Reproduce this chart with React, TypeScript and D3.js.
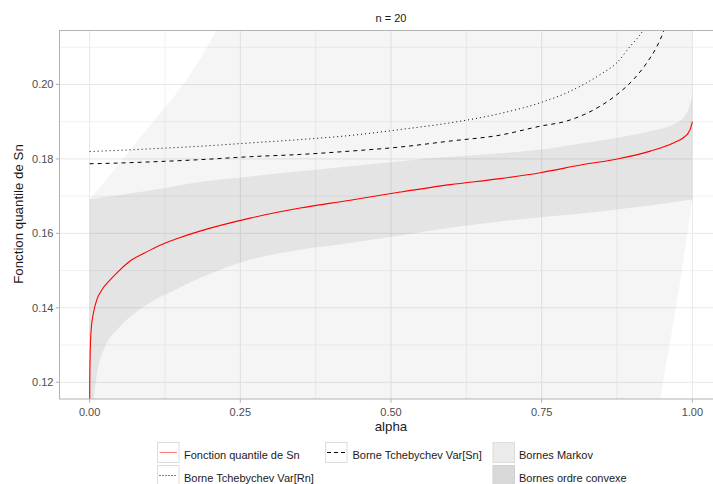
import React from "react";
import * as d3 from "d3";

// ---------- data ----------
const alphaQ = [0, 0.0002, 0.0008, 0.0025, 0.0063, 0.012, 0.0202, 0.034, 0.0478, 0.07, 0.092, 0.114, 0.142, 0.183, 0.2664, 0.3494, 0.4324, 0.5154, 0.5983, 0.6813, 0.7477, 0.8191, 0.8755, 0.9303, 0.9685, 0.9851, 0.9934, 0.997, 1.0];
const quantSn = [0.11, 0.12, 0.127, 0.1341, 0.1386, 0.1422, 0.1448, 0.1475, 0.1498, 0.1529, 0.1548, 0.1566, 0.1584, 0.1606, 0.1641, 0.1668, 0.1689, 0.1711, 0.1731, 0.1747, 0.1763, 0.1785, 0.18, 0.1821, 0.1843, 0.1857, 0.187, 0.1882, 0.19];

const alphaSn = [0, 0.05, 0.1, 0.183, 0.2664, 0.3494, 0.4324, 0.5154, 0.5983, 0.6813, 0.7477, 0.792, 0.8473, 0.875, 0.9026, 0.9248, 0.9414, 0.9524, 0.965];
const borneSn = [0.1787, 0.1789, 0.1792, 0.1798, 0.1806, 0.1812, 0.1821, 0.1832, 0.1848, 0.1864, 0.1888, 0.1902, 0.1942, 0.1973, 0.2014, 0.2059, 0.2103, 0.2144, 0.222];

const alphaRn = [0, 0.05, 0.1, 0.183, 0.2664, 0.3494, 0.4324, 0.5154, 0.5983, 0.6813, 0.7477, 0.792, 0.8473, 0.875, 0.8971, 0.9165, 0.935];
const borneRn = [0.182, 0.1823, 0.1827, 0.1834, 0.1843, 0.1852, 0.1863, 0.1879, 0.1897, 0.1922, 0.1951, 0.1978, 0.2027, 0.2059, 0.2103, 0.2141, 0.22];

const alphaCU = [0, 0.05, 0.1, 0.1917, 0.2664, 0.3494, 0.4324, 0.5154, 0.5983, 0.6813, 0.7477, 0.8191, 0.8755, 0.9303, 0.9685, 0.9851, 0.9934, 1.0];
const convexUpper = [0.1692, 0.1703, 0.1715, 0.174, 0.1753, 0.1767, 0.178, 0.1794, 0.1806, 0.1815, 0.1825, 0.1843, 0.1857, 0.1875, 0.1893, 0.1911, 0.1933, 0.1969];

const alphaCL = [0, 0.007, 0.0146, 0.0257, 0.0478, 0.0755, 0.1032, 0.1364, 0.19, 0.2664, 0.3494, 0.4324, 0.5154, 0.5983, 0.6813, 0.8473, 0.93, 1.0];
const convexLower = [0.1, 0.1157, 0.1242, 0.1296, 0.1345, 0.1386, 0.1417, 0.1444, 0.1485, 0.1529, 0.1556, 0.1574, 0.1594, 0.1615, 0.1632, 0.1659, 0.1675, 0.1691];

const alphaM = [0, 0.02, 0.05, 0.1, 0.15, 0.183, 0.21, 0.25, 0.3, 0.6, 0.9, 0.94, 0.947, 0.975, 1];
const markovUpper = [0.1692, 0.173, 0.179, 0.189, 0.199, 0.2068, 0.2145, 0.225, 0.24, 0.24, 0.24, 0.24, 0.24, 0.24, 0.24];
const markovLower = [0.05, 0.05, 0.05, 0.05, 0.05, 0.05, 0.05, 0.05, 0.05, 0.05, 0.068, 0.108, 0.1155, 0.1422, 0.1691];

const xTicks = [0, 0.25, 0.5, 0.75, 1];
const xTickLabels = ["0.00", "0.25", "0.50", "0.75", "1.00"];
const xMinor = [0.125, 0.375, 0.625, 0.875];
const yTicks = [0.12, 0.14, 0.16, 0.18, 0.2];
const yTickLabels = ["0.12", "0.14", "0.16", "0.18", "0.20"];
const yMinor = [0.13, 0.15, 0.17, 0.19, 0.21];

const FONT = "'Liberation Sans', Arial, sans-serif";

export default function App() {
  const W = 713, H = 484;
  const pL = 59.5, pR = 722.5, pT = 30.5, pB = 399;
  const x = d3.scaleLinear().domain([-0.05, 1.05]).range([pL, pR]);
  const y = d3.scaleLinear().domain([0.1155, 0.2145]).range([pB, pT]);

  const line = d3.line<[number, number]>().x(d => x(d[0])).y(d => y(d[1])).curve(d3.curveMonotoneX);
  const zip = (a: number[], b: number[]) => a.map((v, i) => [v, b[i]] as [number, number]);

  const band = (aU: number[], vU: number[], aL: number[], vL: number[]) => {
    const up = line(zip(aU, vU)) || "";
    const lo = line(zip(aL, vL).reverse()) || "";
    return up + "L" + lo.slice(1) + "Z";
  };

  const markovPath = band(alphaM, markovUpper, alphaM, markovLower);
  const convexPath = band(alphaCU, convexUpper, alphaCL, convexLower);

  const gridMajor = "#e8e8e8";
  const gridMinor = "#f1f1f1";

  return (
    <svg width={W} height={H} style={{ position: "absolute", left: 0, top: 0, background: "#fff" }} fontFamily={FONT}>
      <defs>
        <clipPath id="panel">
          <rect x={pL} y={pT} width={pR - pL} height={pB - pT} />
        </clipPath>
      </defs>
      <rect x={0} y={0} width={W} height={H} fill="#fff" />
      {/* title */}
      <text x={(pL + pR) / 2} y={22} textAnchor="middle" fontSize={11} fill="#1a1a1a">n = 20</text>

      {/* grid */}
      {yMinor.map(v => <line key={"ym" + v} x1={pL} x2={pR} y1={y(v)} y2={y(v)} stroke={gridMinor} strokeWidth={1} />)}
      {xMinor.map(v => <line key={"xm" + v} y1={pT} y2={pB} x1={x(v)} x2={x(v)} stroke={gridMinor} strokeWidth={1} />)}
      {yTicks.map(v => <line key={"yM" + v} x1={pL} x2={pR} y1={y(v)} y2={y(v)} stroke={gridMajor} strokeWidth={1} />)}
      {xTicks.map(v => <line key={"xM" + v} y1={pT} y2={pB} x1={x(v)} x2={x(v)} stroke={gridMajor} strokeWidth={1} />)}

      <g clipPath="url(#panel)">
        <path d={markovPath} fill="#000" fillOpacity={0.038} />
        <path d={convexPath} fill="#000" fillOpacity={0.066} />
        <path d={line(zip(alphaRn, borneRn)) || ""} fill="none" stroke="#000" strokeWidth={1} strokeDasharray="1 3" />
        <path d={line(zip(alphaSn, borneSn)) || ""} fill="none" stroke="#000" strokeWidth={1} strokeDasharray="4 4" />
        <path d={line(zip(alphaQ, quantSn)) || ""} fill="none" stroke="#ff0000" strokeWidth={1.1} />
      </g>

      {/* panel border */}
      <rect x={pL} y={pT} width={pR - pL} height={pB - pT} fill="none" stroke="#b3b3b3" strokeWidth={1} />

      {/* y axis */}
      {yTicks.map((v, i) => (
        <g key={"yt" + v}>
          <line x1={pL - 3.7} x2={pL} y1={y(v)} y2={y(v)} stroke="#b3b3b3" />
          <text x={pL - 6} y={y(v) + 4} textAnchor="end" fontSize={11} fill="#4d4d4d">{yTickLabels[i]}</text>
        </g>
      ))}
      {/* x axis */}
      {xTicks.map((v, i) => (
        <g key={"xt" + v}>
          <line y1={pB} y2={pB + 3.7} x1={x(v)} x2={x(v)} stroke="#b3b3b3" />
          <text x={x(v)} y={416} textAnchor="middle" fontSize={11} fill="#4d4d4d">{xTickLabels[i]}</text>
        </g>
      ))}
      <text x={(pL + pR) / 2} y={430.5} textAnchor="middle" fontSize={13.3} fill="#1a1a1a">alpha</text>
      <text transform={`translate(23,214) rotate(-90)`} textAnchor="middle" fontSize={13.3} fill="#1a1a1a">Fonction quantile de Sn</text>

      {/* legend */}
      <g>
        <rect x={157.5} y={442.5} width={21.5} height={20} fill="#fff" stroke="#dcdcdc" />
        <line x1={159.5} x2={177} y1={452.5} y2={452.5} stroke="#ff7f7f" strokeWidth={1.1} />
        <text x={184} y={459} fontSize={11} fill="#1a1a1a">Fonction quantile de Sn</text>

        <rect x={325.5} y={442.5} width={21.5} height={20} fill="#fff" stroke="#dcdcdc" />
        <line x1={327} x2={346} y1={452.5} y2={452.5} stroke="#000" strokeWidth={1} strokeDasharray="4 3" />
        <text x={352.5} y={459} fontSize={11} fill="#1a1a1a">Borne Tchebychev Var[Sn]</text>

        <rect x={493} y={442.5} width={21.5} height={20} fill="#ebebeb" stroke="#dcdcdc" />
        <text x={519} y={459} fontSize={11} fill="#1a1a1a">Bornes Markov</text>

        <rect x={157.5} y={465.5} width={21.5} height={20} fill="#fff" stroke="#dcdcdc" />
        <line x1={159.5} x2={177} y1={475.5} y2={475.5} stroke="#000" strokeWidth={1} strokeDasharray="1 2" />
        <text x={184} y={481.5} fontSize={11} fill="#1a1a1a">Borne Tchebychev Var[Rn]</text>

        <rect x={493} y={465.5} width={21.5} height={20} fill="#d9d9d9" stroke="#d0d0d0" />
        <text x={519} y={481.5} fontSize={11} fill="#1a1a1a">Bornes ordre convexe</text>
      </g>
    </svg>
  );
}
